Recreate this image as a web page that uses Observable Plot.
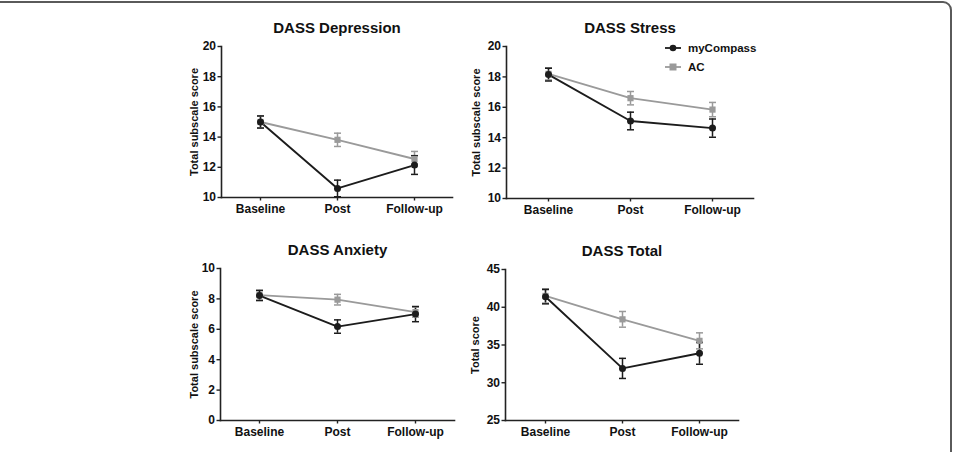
<!DOCTYPE html>
<html>
<head>
<meta charset="utf-8">
<script src="https://cdn.jsdelivr.net/npm/d3@7"></script>
<script src="https://cdn.jsdelivr.net/npm/@observablehq/plot@0.6"></script>
<style>
  html, body { margin: 0; padding: 0; background: #fff; }
  #wrap { position: relative; width: 957px; height: 452px; overflow: hidden; font-family: "Liberation Sans", Arial, sans-serif; font-weight: bold; }
  #border { position: absolute; left: -20px; top: 1px; width: 972px; height: 500px; border: 2px solid #5a5a5a; border-radius: 0 9px 0 0; box-sizing: border-box; }
  .panel { position: absolute; }
  #legend { position: absolute; left: 664px; top: 38px; font-size: 11.5px; color: #111; }
  #legend .item { display: flex; align-items: center; height: 19px; }
  #legend svg { margin-right: 5px; }
</style>
</head>
<body>
<div id="wrap">
  <div id="border"></div>
  <div id="legend"></div>
</div>
<script>
// ---- data ----
const timepoints = ["Baseline", "Post", "Follow-up"];
const groups = ["myCompass", "AC"];
const groupColors = ["#1c1c1c", "#9a9a9a"];

const panelTitles = ["DASS Depression", "DASS Stress", "DASS Anxiety", "DASS Total"];
const yLabels = ["Total subscale score", "Total subscale score", "Total subscale score", "Total score"];
const yDomains = [[10, 20], [10, 20], [0, 10], [25, 45]];
const yTicks = [[10, 12, 14, 16, 18, 20], [10, 12, 14, 16, 18, 20], [0, 2, 4, 6, 8, 10], [25, 30, 35, 40, 45]];

const depressionMyCompass = [15.0, 10.6, 12.15];
const depressionMyCompassErr = [0.4, 0.55, 0.62];
const depressionAC = [15.0, 13.82, 12.55];
const depressionACErr = [0.4, 0.44, 0.5];

const stressMyCompass = [18.15, 15.1, 14.63];
const stressMyCompassErr = [0.42, 0.58, 0.6];
const stressAC = [18.2, 16.6, 15.85];
const stressACErr = [0.4, 0.44, 0.47];

const anxietyMyCompass = [8.22, 6.18, 7.0];
const anxietyMyCompassErr = [0.33, 0.44, 0.5];
const anxietyAC = [8.25, 7.95, 7.13];
const anxietyACErr = [0.33, 0.35, 0.33];

const totalMyCompass = [41.4, 31.9, 33.9];
const totalMyCompassErr = [0.95, 1.33, 1.45];
const totalAC = [41.5, 38.4, 35.55];
const totalACErr = [0.95, 1.04, 1.06];

const panelValues = [
  [depressionMyCompass, depressionMyCompassErr, depressionAC, depressionACErr],
  [stressMyCompass, stressMyCompassErr, stressAC, stressACErr],
  [anxietyMyCompass, anxietyMyCompassErr, anxietyAC, anxietyACErr],
  [totalMyCompass, totalMyCompassErr, totalAC, totalACErr]
];

// ---- layout (page pixels) ----
const layouts = [
  {left: 170, top: 5,   width: 292, height: 222, mt: 41, mb: 30, mr: 10, labelDx: -27},
  {left: 455, top: 5,   width: 308, height: 223, mt: 41, mb: 30, mr: 10, labelDx: -30},
  {left: 169, top: 228, width: 295, height: 222, mt: 40, mb: 30, mr: 10, labelDx: -26},
  {left: 454, top: 228, width: 294, height: 222, mt: 41, mb: 30, mr: 10, labelDx: -30}
];

const cap = {
  draw(context, size) {
    const r = Math.sqrt(size / Math.PI);
    context.moveTo(-r, 0);
    context.lineTo(r, 0);
  }
};

function rows(vals) {
  const [mc, mcErr, ac, acErr] = vals;
  const out = [];
  // AC drawn first, myCompass on top
  timepoints.forEach((t, i) => out.push({group: "AC", time: t, value: ac[i], lo: ac[i] - acErr[i], hi: ac[i] + acErr[i]}));
  timepoints.forEach((t, i) => out.push({group: "myCompass", time: t, value: mc[i], lo: mc[i] - mcErr[i], hi: mc[i] + mcErr[i]}));
  return out;
}

const wrap = document.getElementById("wrap");

panelTitles.forEach((title, p) => {
  const L = layouts[p];
  const data = rows(panelValues[p]);
  const chart = Plot.plot({
    width: L.width,
    height: L.height,
    marginLeft: 51,
    marginRight: L.mr,
    marginTop: L.mt,
    marginBottom: L.mb,
    style: {fontFamily: "'Liberation Sans', Arial, sans-serif", fontWeight: "bold", color: "#111", background: "transparent", overflow: "visible"},
    x: {type: "point", domain: timepoints, padding: 0.5, label: null},
    y: {domain: yDomains[p], label: null},
    color: {domain: groups, range: groupColors},
    symbol: {domain: groups, range: ["circle", "square"]},
    marks: [
      Plot.frame({anchor: "left", stroke: "#222", strokeWidth: 1.6}),
      Plot.frame({anchor: "bottom", stroke: "#222", strokeWidth: 1.6}),
      Plot.axisY({ticks: yTicks[p], tickSize: 3.5, tickPadding: 2, fontSize: 12, label: null, stroke: "#222", strokeWidth: 1.4}),
      Plot.axisX({tickSize: 3.5, tickPadding: 3, fontSize: 12, label: null, stroke: "#222", strokeWidth: 1.4}),
      Plot.line(data, {x: "time", y: "value", z: "group", stroke: "group", strokeWidth: 1.9}),
      Plot.ruleX(data, {x: "time", y1: "lo", y2: "hi", stroke: "group", strokeWidth: 1.5}),
      Plot.dot(data, {x: "time", y: "hi", symbol: cap, r: 3.5, stroke: "group", strokeWidth: 1.5, fill: "none"}),
      Plot.dot(data, {x: "time", y: "lo", symbol: cap, r: 3.5, stroke: "group", strokeWidth: 1.5, fill: "none"}),
      Plot.dot(data, {x: "time", y: "value", symbol: "group", fill: "group", r: 3.5, stroke: "none"}),
      Plot.text([title], {text: d => d, frameAnchor: "top", dy: -24, fontSize: 15, fontWeight: "bold", fill: "#111"}),
      Plot.text([yLabels[p]], {text: d => d, frameAnchor: "left", textAnchor: "middle", rotate: -90, dx: L.labelDx, fontSize: 11, fontWeight: "bold", fill: "#111"})
    ]
  });
  const div = document.createElement("div");
  div.className = "panel";
  div.style.left = L.left + "px";
  div.style.top = L.top + "px";
  div.appendChild(chart);
  wrap.appendChild(div);
});

// legend
const legend = document.getElementById("legend");
groups.forEach((g, i) => {
  const item = document.createElement("div");
  item.className = "item";
  const marker = i === 0
    ? `<circle cx="9" cy="6" r="3.3" fill="${groupColors[i]}"/>`
    : `<rect x="5.5" y="2.5" width="7" height="7" fill="${groupColors[i]}"/>`;
  item.innerHTML = `<svg width="19" height="12"><line x1="1" x2="17" y1="6" y2="6" stroke="${groupColors[i]}" stroke-width="1.8"/>${marker}</svg><span>${g}</span>`;
  legend.appendChild(item);
});
</script>
</body>
</html>
